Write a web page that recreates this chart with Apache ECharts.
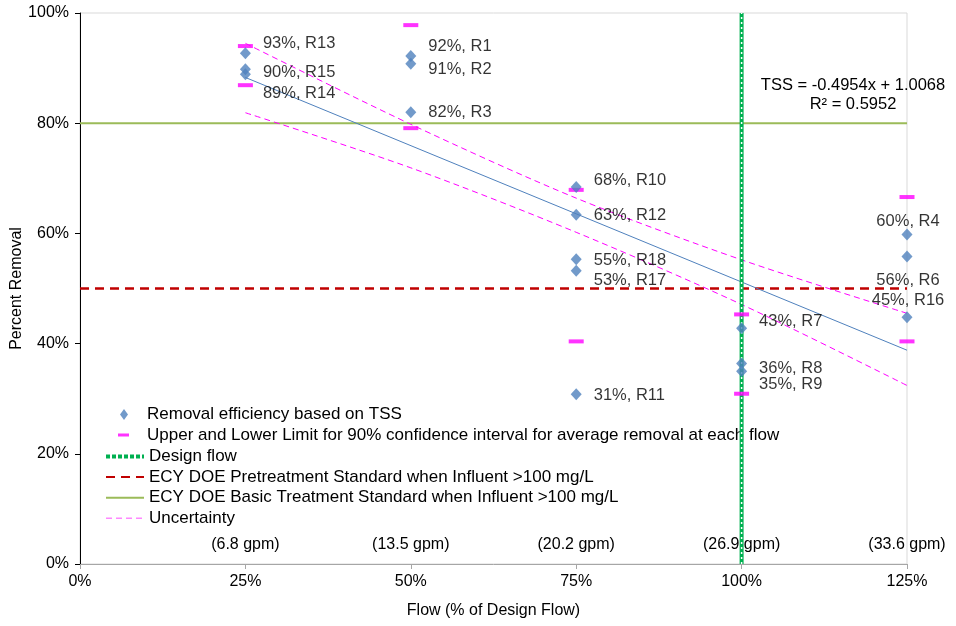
<!DOCTYPE html>
<html>
<head>
<meta charset="utf-8">
<script src="https://cdn.jsdelivr.net/npm/echarts@6/dist/echarts.min.js"></script>
<style>html,body{margin:0;padding:0;background:#fff}#c{width:956px;height:626px}</style>
</head>
<body>
<div id="c"></div>
<script>
// ---- data ----
const flowPct    = [25, 25, 25, 50, 50, 50, 75, 75, 75, 75, 75, 100, 100, 100, 125, 125, 125];
const removalPct = [92.7, 89.8, 88.9, 92.2, 90.8, 82.0, 68.4, 63.4, 55.3, 53.2, 30.8, 42.8, 36.4, 35.0, 59.8, 55.8, 44.8];
const runIds     = ['R13','R15','R14','R1','R2','R3','R10','R12','R18','R17','R11','R7','R8','R9','R4','R6','R16'];

const limitFlows = [25, 50, 75, 100, 125];
const upperLimit = [94.0, 97.8, 67.9, 45.3, 66.6];
const lowerLimit = [86.9, 79.1, 40.4, 30.9, 40.4];

const trendFlows  = [25, 125];
const trendValues = [88.3, 38.8];

const bandFlows = [25, 50, 75, 100, 125];
const bandUpper = [94.5, 79.8, 66.4, 55.2, 45.5];
const bandLower = [81.9, 71.9, 60.2, 47.1, 32.4];

const designFlowPct = 100;
const pretreatStd = 50;
const basicStd = 80;

const xTicks    = [0, 25, 50, 75, 100, 125];
const gpmLabels = ['', '(6.8 gpm)', '(13.5 gpm)', '(20.2 gpm)', '(26.9 gpm)', '(33.6 gpm)'];

const equationText = 'TSS = -0.4954x + 1.0068\nR² = 0.5952';

const names = {
  pts: 'Removal efficiency based on TSS',
  lim: 'Upper and Lower Limit for 90% confidence interval for average removal at each flow',
  design: 'Design flow',
  pre: 'ECY DOE Pretreatment Standard when Influent >100 mg/L',
  basic: 'ECY DOE Basic Treatment Standard when Influent >100 mg/L',
  unc: 'Uncertainty'
};

// ---- label placement (style only) ----
const labelPlace = [
  ['right',-10],['right',3],['right',19],
  ['right',-10],['right',6],['right',0],
  ['right',-7],['right',1],['right',1],['right',10],['right',1],
  ['right',-7],['right',5],['right',13],
  ['top',7],['bottom',3],['top',4]
];

const FONT = "'Liberation Sans', Arial, sans-serif";
const NARROW = "'Liberation Sans Narrow', 'Liberation Sans', Arial, sans-serif";
const TXT = 16.5;
const LEG = 17;

const pointData = flowPct.map((f, i) => {
  const [pos, dy] = labelPlace[i];
  const lab = pos === 'right'
    ? { position: 'right', distance: 12, offset: [0, dy] }
    : { position: pos, distance: 6, offset: [1, dy] };
  return { value: [f, removalPct[i]], label: lab };
});
const limitData = [];
limitFlows.forEach((f, i) => { limitData.push([f, upperLimit[i]]); limitData.push([f, lowerLimit[i]]); });

const chart = echarts.init(document.getElementById('c'), null, { renderer: 'canvas' });
const option = {
  animation: false,
  backgroundColor: '#ffffff',
  textStyle: { fontFamily: FONT },
  grid: { left: 80, right: 49, top: 13, bottom: 62, show: true, borderColor: '#D9D9D9', borderWidth: 1,
          containLabel: false, outerBoundsMode: 'none' },
  xAxis: [{
    type: 'value', min: 0, max: 125, interval: 25,
    axisLine: { show: true, onZero: false, lineStyle: { color: '#A6A6A6', width: 1 } },
    axisTick: { show: true, length: 5, lineStyle: { color: '#A6A6A6' } },
    axisLabel: { formatter: '{value}%', margin: 10, fontSize: 16, color: '#000', fontFamily: NARROW },
    splitLine: { show: false },
    name: 'Flow (% of Design Flow)', nameLocation: 'middle', nameGap: 39,
    nameTextStyle: { fontSize: 16, color: '#000', fontFamily: NARROW }
  }, {
    type: 'value', min: 0, max: 125, interval: 25, position: 'bottom',
    axisLine: { show: false }, axisTick: { show: false }, splitLine: { show: false },
    axisLabel: {
      inside: true, margin: 11, fontSize: 16, color: '#000', fontFamily: NARROW,
      formatter: v => gpmLabels[xTicks.indexOf(v)] || ''
    }
  }],
  yAxis: {
    type: 'value', min: 0, max: 100, interval: 20,
    axisLine: { show: true, lineStyle: { color: '#000', width: 1 } },
    axisTick: { show: true, length: 5, lineStyle: { color: '#000' } },
    axisLabel: { formatter: '{value}%', margin: 11, fontSize: 16, color: '#000', fontFamily: FONT },
    splitLine: { show: false },
    name: 'Percent Removal', nameLocation: 'middle', nameGap: 55, nameRotate: 90,
    nameMoveOverlap: false,
    nameTextStyle: { fontSize: 16, color: '#000', fontFamily: FONT }
  },
  legend: [{
    orient: 'vertical', left: 117, top: 406, padding: 0, itemWidth: 25, itemHeight: 14, itemGap: 3.6,
    selectedMode: false,
    textStyle: { fontSize: LEG, color: '#000', fontFamily: FONT },
    data: [
      { name: names.pts, icon: 'path://M0,0L0.01,0M7,1.5L11,7L7,12.5L3,7ZM25,14L24.99,14' },
      { name: names.lim, icon: 'path://M0,0L0.01,0M1,5.5L12,5.5L12,8.5L1,8.5ZM25,14L24.99,14' }
    ]
  }, {
    orient: 'vertical', left: 104, top: 406 + 2 * 21, padding: 0, itemWidth: 38, itemHeight: 14, itemGap: 3.6,
    selectedMode: false,
    itemStyle: { opacity: 0 },
    textStyle: { fontSize: LEG, color: '#000', fontFamily: FONT },
    data: [
      { name: names.design, lineStyle: { type: [4, 2], width: 4 } },
      names.pre, names.basic,
      { name: names.unc, lineStyle: { color: '#FF88FF', width: 1.5 } }
    ]
  }],
  graphic: [{
    type: 'text', x: 853, y: 76, silent: true,
    style: { text: equationText, fontSize: TXT, fontFamily: FONT, fill: '#000', align: 'center', verticalAlign: 'top', lineHeight: 19 }
  }],
  series: [
    { name: names.basic, type: 'line', symbol: 'none', z: 2,
      data: [[0, basicStd], [125, basicStd]],
      itemStyle: { color: '#9BBB59' },
      lineStyle: { color: '#9BBB59', width: 2 } },
    { name: names.pre, type: 'line', symbol: 'none', z: 2,
      data: [[0, pretreatStd], [125, pretreatStd]],
      itemStyle: { color: '#C00000' },
      lineStyle: { color: '#C00000', width: 2.5, type: [9, 6] } },
    { name: names.unc, type: 'line', symbol: 'none', smooth: 0.3, z: 3,
      data: bandFlows.map((f, i) => [f, bandUpper[i]]),
      itemStyle: { color: '#FF00FF' },
      lineStyle: { color: '#FF00FF', width: 1, type: [6, 4] } },
    { name: names.unc, type: 'line', symbol: 'none', smooth: 0.3, z: 3,
      data: bandFlows.map((f, i) => [f, bandLower[i]]),
      itemStyle: { color: '#FF00FF' },
      lineStyle: { color: '#FF00FF', width: 1, type: [6, 4] } },
    { name: 'Linear trend', type: 'line', symbol: 'none', z: 3,
      data: trendFlows.map((f, i) => [f, trendValues[i]]),
      itemStyle: { color: '#4F81BD' },
      lineStyle: { color: '#4F81BD', width: 1 } },
    { name: names.design, type: 'line', symbol: 'none', z: 4,
      data: [[designFlowPct, 0], [designFlowPct, 100]],
      itemStyle: { color: '#00B050' },
      lineStyle: { color: '#00B050', width: 4 } },
    { name: names.design, type: 'line', symbol: 'none', z: 4,
      data: [[designFlowPct, 0], [designFlowPct, 100]],
      itemStyle: { color: '#ffffff' },
      lineStyle: { color: '#ffffff', width: 1.5, type: [2, 3] } },
    { name: names.lim, type: 'scatter', symbol: 'rect', symbolSize: [15, 4], z: 5,
      data: limitData, itemStyle: { color: '#FF00FF' } },
    { name: names.pts, type: 'scatter', symbol: 'diamond', symbolSize: [11, 12], z: 6,
      data: pointData, itemStyle: { color: '#4F81BD' },
      label: {
        show: true, color: '#000', fontSize: TXT, fontFamily: FONT,
        formatter: p => Math.round(removalPct[p.dataIndex]) + '%, ' + runIds[p.dataIndex]
      } }
  ]
};
chart.setOption(option);
</script>
</body>
</html>
